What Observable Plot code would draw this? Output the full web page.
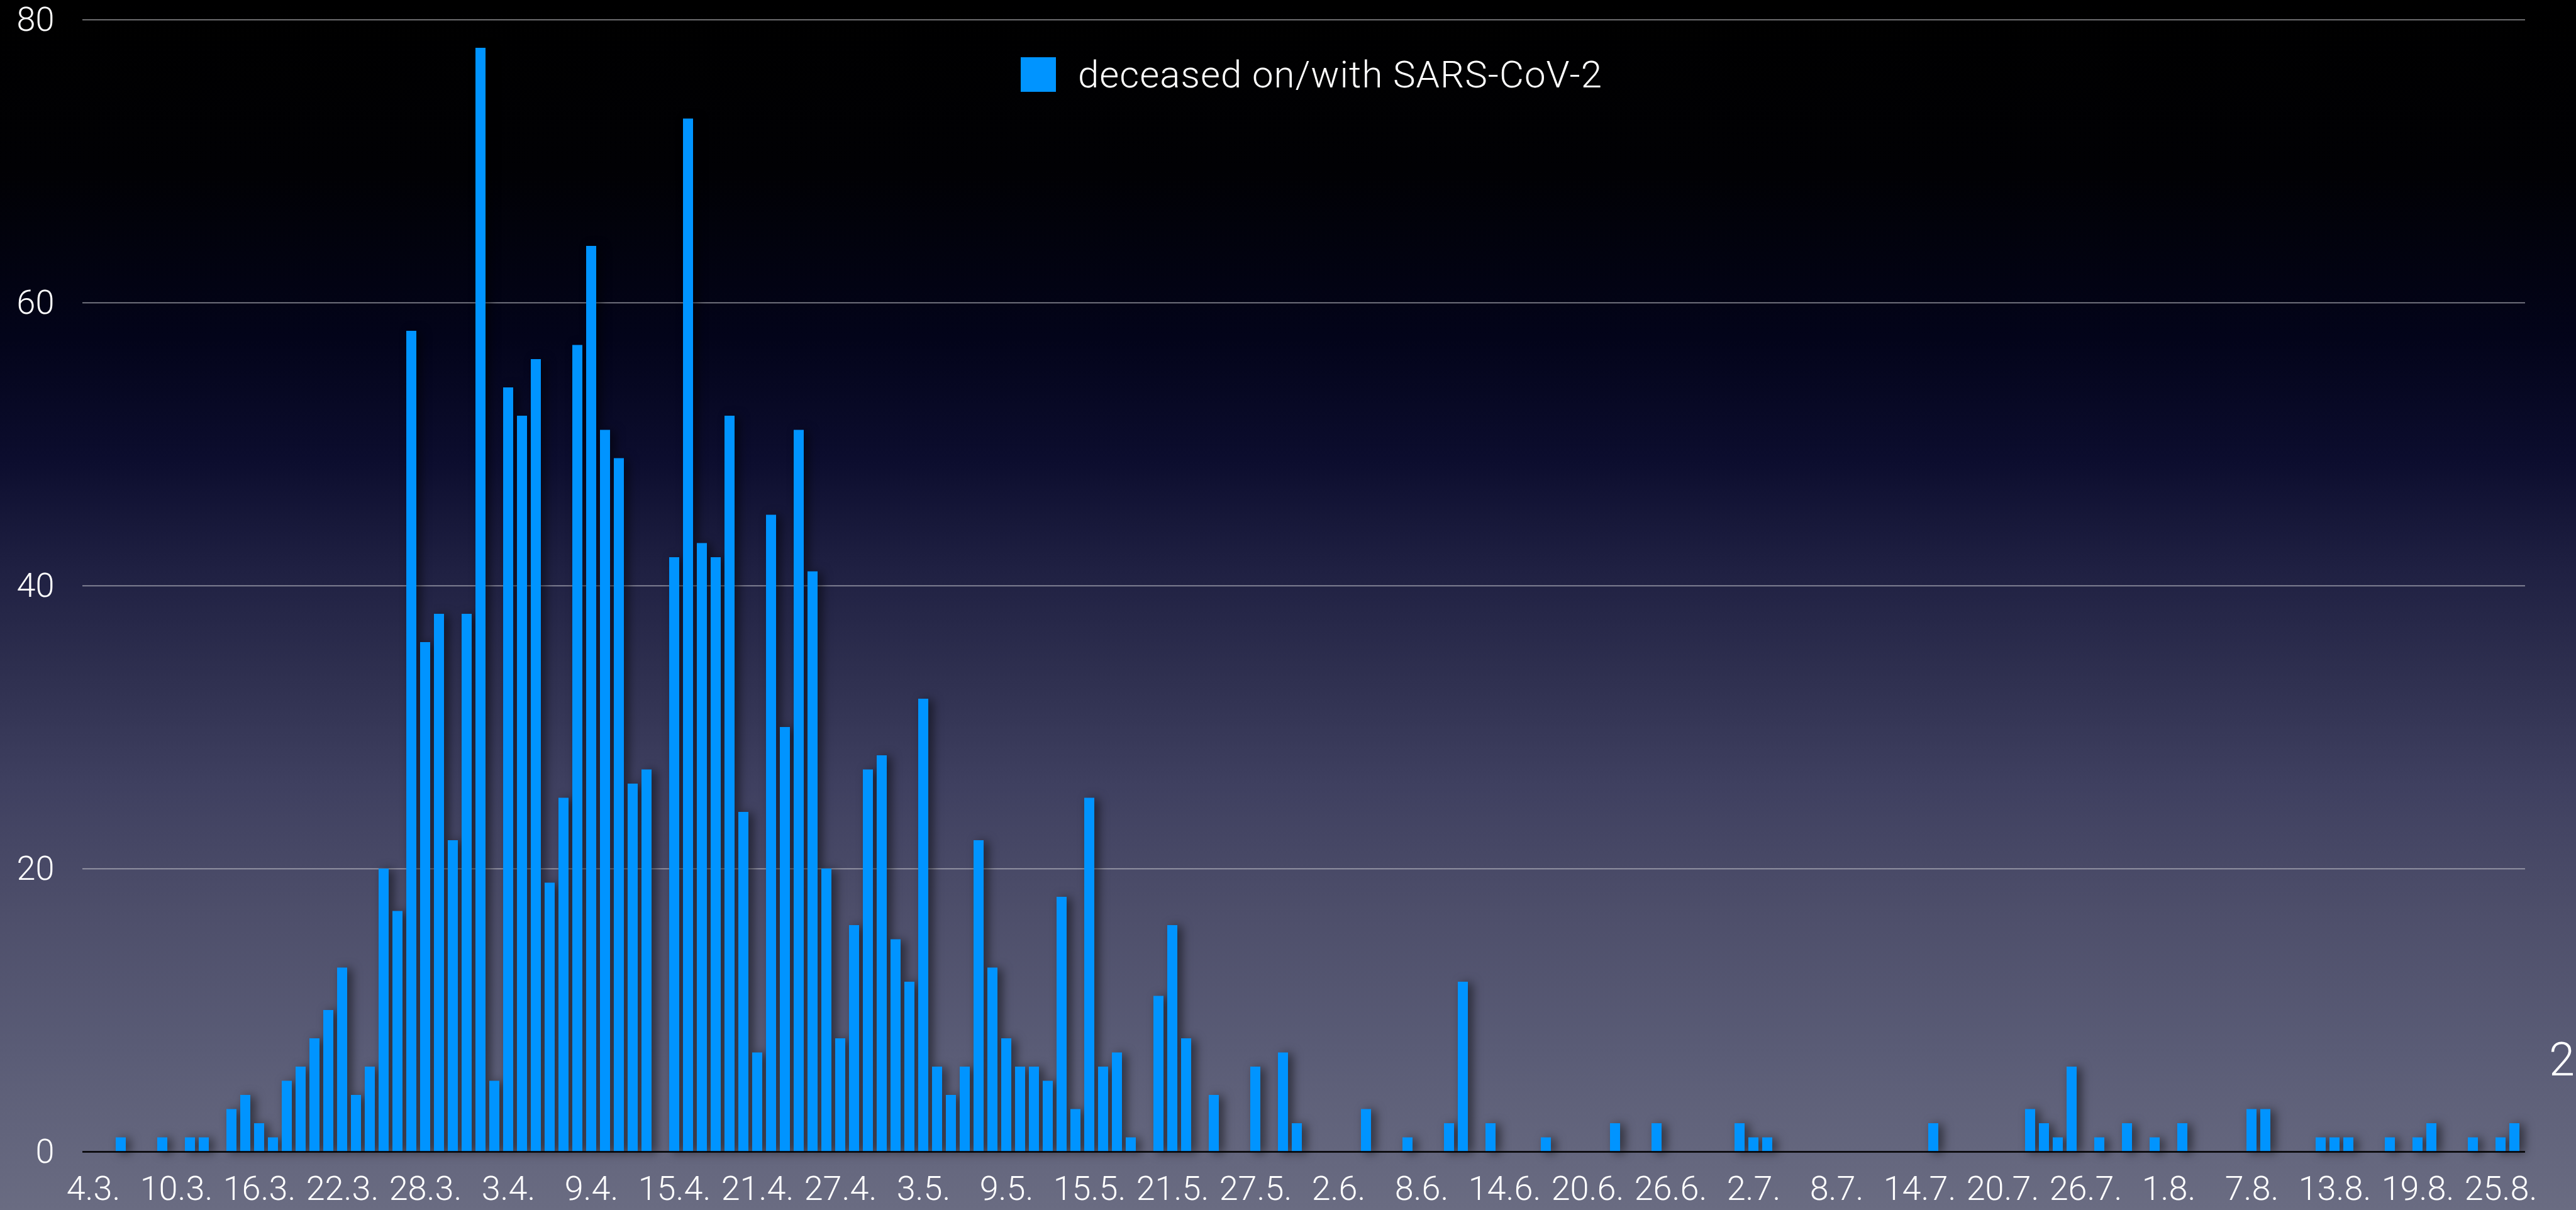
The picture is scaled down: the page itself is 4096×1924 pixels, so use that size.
<!DOCTYPE html>
<html>
<head>
<meta charset="utf-8">
<script src="https://cdn.jsdelivr.net/npm/d3@7"></script>
<script src="https://cdn.jsdelivr.net/npm/@observablehq/plot@0.6"></script>
<style>
  html, body { margin: 0; padding: 0; }
  body { width: 4096px; height: 1924px; overflow: hidden; }
  #wrap {
    position: relative; width: 4096px; height: 1924px; overflow: hidden;
    background: linear-gradient(to bottom,
      #000000 0%, #010104 14%, #03041a 28%, #0c0d2e 38%, #1f2042 47%,
      #2f3050 56%, #3f4060 65%, #4d4e6a 75%, #5a5c76 87%, #6a6c82 100%);
    font-family: Roboto, "Liberation Sans", sans-serif;
  }
  #legend {
    position: absolute; left: 1623px; top: 83px; display: flex; align-items: center;
    color: #fff; font-size: 60px; font-weight: 300; letter-spacing: 1px; white-space: nowrap;
  }
  #legend .sw { width: 56px; height: 55px; background: #0094ff; margin-right: 35px; }
  #edge { position: absolute; right: 2px; top: 1648px; color: #fff; font-size: 74px; line-height: 74px; font-weight: 300; }
  svg g[aria-label="bar"] { filter: drop-shadow(7px 2px 8px rgba(0,0,0,0.55)); }
</style>
</head>
<body>
<div id="wrap">
  <div id="chart"></div>
  <div id="legend"><div class="sw"></div><span>deceased on/with SARS-CoV-2</span></div>
  <div id="edge">2</div>
</div>
<script>
// ---- data ----
const startDate = "2020-03-04";
const endDate = "2020-08-26";
// daily deaths, one value per day from 4.3. to 26.8.
const deaths = [
  0, 0, 1, 0, 0, 1, 0, 1, 1, 0,      // 4.3.-13.3.
  3, 4, 2, 1, 5, 6, 8, 10, 13, 4,    // 14.3.-23.3.
  6, 20, 17, 58, 36, 38, 22, 38, 78, 5,
  54, 52, 56, 19, 25, 57, 64, 51, 49, 26,
  27, 0, 42, 73, 43, 42, 52, 24, 7, 45,
  30, 51, 41, 20, 8, 16, 27, 28, 15, 12,
  32, 6, 4, 6, 22, 13, 8, 6, 6, 5,
  18, 3, 25, 6, 7, 1, 0, 11, 16, 8,
  0, 4, 0, 0, 6, 0, 7, 2, 0, 0,
  0, 0, 3, 0, 0, 1, 0, 0, 2, 12,
  0, 2, 0, 0, 0, 1, 0, 0, 0, 0,
  2, 0, 0, 2, 0, 0, 0, 0, 0, 2,
  1, 1, 0, 0, 0, 0, 0, 0, 0, 0,
  0, 0, 0, 2, 0, 0, 0, 0, 0, 0,
  3, 2, 1, 6, 0, 1, 0, 2, 0, 1,
  0, 2, 0, 0, 0, 0, 3, 3, 0, 0,
  0, 1, 1, 1, 0, 0, 1, 0, 1, 2,
  0, 0, 1, 0, 1, 2
];
const xTickLabels = ["4.3.", "10.3.", "16.3.", "22.3.", "28.3.", "3.4.", "9.4.", "15.4.", "21.4.", "27.4.",
  "3.5.", "9.5.", "15.5.", "21.5.", "27.5.", "2.6.", "8.6.", "14.6.", "20.6.", "26.6.",
  "2.7.", "8.7.", "14.7.", "20.7.", "26.7.", "1.8.", "7.8.", "13.8.", "19.8.", "25.8."];
const yTicks = [0, 20, 40, 60, 80];
const gridValues = [20, 40, 60, 80];

// ---- build ----
const fmt = d3.utcFormat("%-d.%-m.");
const days = d3.utcDay.range(new Date(startDate), d3.utcDay.offset(new Date(endDate), 1)).map(fmt);
const table = days.map((day, i) => ({day, value: deaths[i]}));

const chart = Plot.plot({
  width: 4096,
  height: 1924,
  marginLeft: 131,
  marginRight: 81,
  marginTop: 31,
  marginBottom: 93,
  style: {background: "transparent", color: "white", fontSize: "54px", fontFamily: "Roboto, 'Liberation Sans', sans-serif", fontWeight: 300},
  x: {type: "band", domain: days, paddingInner: 0.27, paddingOuter: 0.135, ticks: xTickLabels, tickSize: 0, tickPadding: 38, label: null},
  y: {domain: [0, 80], ticks: yTicks, tickSize: 0, tickPadding: 45, label: null},
  marks: [
    Plot.ruleY(gridValues, {stroke: "#d0d0d6", strokeOpacity: 0.7, strokeWidth: 1.6}),
    Plot.barY(table, {x: "day", y: "value", fill: "#0094ff", filter: d => d.value > 0}),
    Plot.ruleY([0], {stroke: "#000", strokeWidth: 2.6})
  ]
});
document.getElementById("chart").appendChild(chart);
</script>
</body>
</html>
